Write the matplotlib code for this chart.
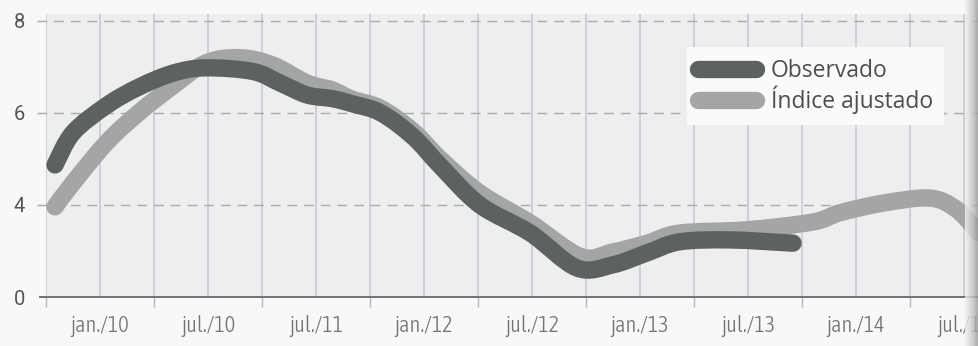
import numpy as np
import matplotlib.pyplot as plt
from matplotlib.path import Path
from matplotlib.patches import PathPatch
from matplotlib.lines import Line2D
from matplotlib import font_manager

# months counted from oct/2009
obs_m = [0.5, 1.5, 3.4, 5.2, 7.1, 8.9, 11.5, 13.0, 14.5, 15.9, 17.0, 18.6, 20.4,
         21.9, 24.1, 26.9, 29.5, 31.5, 33.4, 35.2, 38.0, 41.5]
obs_v = [4.87, 5.57, 6.17, 6.57, 6.87, 6.98, 6.90, 6.65, 6.39, 6.31, 6.20, 6.00, 5.48,
         4.85, 4.00, 3.39, 2.63, 2.70, 2.96, 3.20, 3.24, 3.17]

adj_m = [0.5, 1.5, 3.4, 5.2, 7.1, 8.9, 10.8, 12.6, 14.5, 15.9, 17.0, 18.6, 20.4,
         21.9, 24.1, 26.9, 29.7, 31.5, 33.4, 35.2, 38.9, 42.6, 44.1, 46.5, 49.1,
         50.6, 51.8]
adj_v = [3.96, 4.48, 5.37, 6.02, 6.60, 7.09, 7.20, 7.04, 6.65, 6.50, 6.30, 6.10, 5.60,
         5.00, 4.26, 3.61, 2.88, 2.98, 3.17, 3.39, 3.46, 3.63, 3.83, 4.04, 4.15,
         3.90, 3.40]

label_m = [3, 9, 15, 21, 27, 33, 39, 45, 51]
labels = ['jan./10', 'jul./10', 'jul./11', 'jan./12', 'jul./12',
          'jan./13', 'jul./13', 'jan./14', 'jul./14']
# y axis is broken between 0 and 4: the bottom of the scale shows 0
ytick_pos = [2, 4, 6, 8]
ytick_lab = ['0', '4', '6', '8']

DARK = '#5d6160'
LIGHT = '#a3a5a6'
LW = 12.5

# narrow face for the month labels, lightest weight available
cands = [f for f in font_manager.fontManager.ttflist
         if ('Narrow' in f.name or 'Condensed' in f.name) and f.style == 'normal']
cands.sort(key=lambda f: (abs(int(f.weight) - 300) if str(f.weight).isdigit() else 999))
if cands:
    tick_font = {'family': cands[0].name, 'weight': cands[0].weight, 'size': 16}
else:
    tick_font = {'family': 'DejaVu Sans', 'size': 12}


def smooth_path(xs, ys):
    # catmull-rom through the points, written as cubic bezier segments
    p = np.column_stack([xs, ys]).astype(float)
    p = np.vstack([p[0], p, p[-1]])
    verts = [p[1]]
    codes = [Path.MOVETO]
    for i in range(1, len(p) - 2):
        c1 = p[i] + (p[i + 1] - p[i - 1]) / 6
        c2 = p[i + 1] - (p[i + 2] - p[i]) / 6
        verts += [c1, c2, p[i + 1]]
        codes += [Path.CURVE4] * 3
    return Path(verts, codes)


fig = plt.figure(figsize=(9.79, 3.46), dpi=100, facecolor='#f8f8f8')
ax = fig.add_axes([0.047, 0.1416, 0.953, 0.818])
ax.set_facecolor('#eeeef1')
ax.set_xlim(0, 51.83)
ax.set_ylim(2, 8.15)

for m in range(0, 52, 3):
    ax.axvline(m, color='#c8c8cc', lw=1.1, zorder=1)
for v in [4, 6, 8]:
    ax.axhline(v, xmin=-0.01, color='#ababab', lw=1.0, ls=(0, (7, 5)),
               clip_on=False, zorder=1)
ax.axhline(2, xmin=-0.006, color='#707070', lw=1.4, clip_on=False, zorder=4)

for xs, ys, col, z in [(adj_m, adj_v, LIGHT, 2), (obs_m, obs_v, DARK, 3)]:
    ax.add_patch(PathPatch(smooth_path(xs, ys), fill=False, edgecolor=col,
                           lw=LW, capstyle='round', joinstyle='round', zorder=z))

for s in ax.spines.values():
    s.set_visible(False)

ax.set_xticks(label_m, labels, fontdict=tick_font, color='#747474')
ax.set_xticks(range(0, 52, 6), minor=True)
ax.tick_params(axis='x', which='major', length=0, pad=13)
ax.tick_params(axis='x', which='minor', length=7, width=1, color='#b8b8b8')
ax.set_yticks(ytick_pos, ytick_lab, family='Roboto', fontsize=14.5, color='#555555')
ax.tick_params(axis='y', length=0, pad=15)

handles = [Line2D([], [], color=DARK, lw=LW, solid_capstyle='round'),
           Line2D([], [], color=LIGHT, lw=LW, solid_capstyle='round')]
leg = ax.legend(handles, ['Observado', 'Índice ajustado'], loc='upper left',
                bbox_to_anchor=(0.687, 0.883), borderaxespad=0, frameon=True,
                fancybox=False, prop={'family': 'Open Sans', 'size': 16.5},
                handlelength=2.5, handletextpad=0.65, labelspacing=0.12,
                borderpad=0.5, labelcolor='#4e4e4e')
leg.get_frame().set_facecolor('#fafafa')
leg.get_frame().set_edgecolor('none')
leg.get_frame().set_alpha(1)

# darker page edge on the right side
edge = fig.add_axes([0.986, 0, 0.014, 1])
edge.imshow(np.linspace(0, 1, 20)[None, :], aspect='auto', cmap='Greys',
            vmin=-0.3, vmax=2.2, alpha=0.8)
edge.axis('off')

fig.savefig('out.png', dpi=100, facecolor=fig.get_facecolor())
